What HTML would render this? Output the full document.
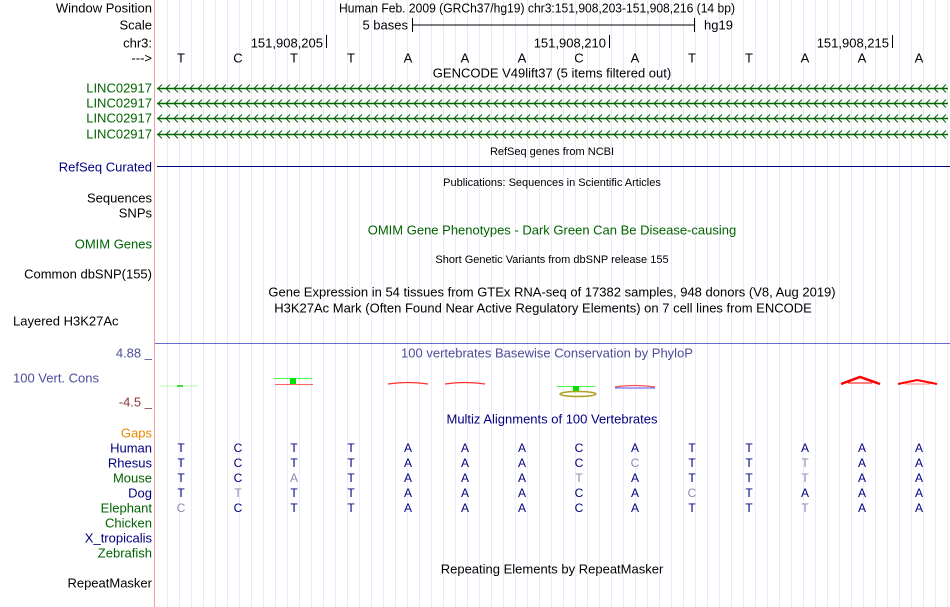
<!DOCTYPE html>
<html><head><meta charset="utf-8"><style>
html,body{margin:0;padding:0;background:#fff;width:950px;height:607px;overflow:hidden}
svg{display:block}
text{font-family:"Liberation Sans",sans-serif;font-size:13px;dominant-baseline:central}
.s{font-size:11px}
.b{font-size:12px}
.r{text-anchor:end}
.m{text-anchor:middle}
.g{fill:#006400}.n{fill:#000080}.f{fill:#8a8ab0}
</style></head><body>
<svg width="950" height="607" xmlns="http://www.w3.org/2000/svg">
<defs>
<pattern id="grid" x="155.5" y="0" width="12" height="607" patternUnits="userSpaceOnUse">
<line x1="12" y1="0" x2="12" y2="607" stroke="#d6d6f0" stroke-width="1"/>
</pattern>
<pattern id="a1" x="157" y="83.5" width="8" height="10" patternUnits="userSpaceOnUse"><polyline points="5,1 1,5 5,9" fill="none" stroke="#006400"/></pattern>
<pattern id="a2" x="157" y="98.5" width="8" height="10" patternUnits="userSpaceOnUse"><polyline points="5,1 1,5 5,9" fill="none" stroke="#006400"/></pattern>
<pattern id="a3" x="157" y="113.5" width="8" height="10" patternUnits="userSpaceOnUse"><polyline points="5,1 1,5 5,9" fill="none" stroke="#006400"/></pattern>
<pattern id="a4" x="157" y="129.5" width="8" height="10" patternUnits="userSpaceOnUse"><polyline points="5,1 1,5 5,9" fill="none" stroke="#006400"/></pattern>
</defs>
<rect x="156" y="0" width="794" height="607" fill="url(#grid)"/>
<line x1="154.5" y1="0" x2="154.5" y2="607" stroke="#f4a0a0" stroke-width="1"/>

<text x="152" y="8" class="r">Window Position</text>
<text x="152" y="25" class="r">Scale</text>
<text x="152" y="43" class="r">chr3:</text>
<text x="152" y="58" class="r">---&gt;</text>
<text x="152" y="88" class="r g">LINC02917</text>
<text x="152" y="103" class="r g">LINC02917</text>
<text x="152" y="118" class="r g">LINC02917</text>
<text x="152" y="134" class="r g">LINC02917</text>
<text x="152" y="167" class="r n">RefSeq Curated</text>
<text x="152" y="198" class="r">Sequences</text>
<text x="152" y="213" class="r">SNPs</text>
<text x="152" y="244" class="r g">OMIM Genes</text>
<text x="152" y="274" class="r">Common dbSNP(155)</text>
<text x="13" y="321">Layered H3K27Ac</text>
<text x="152" y="353" class="r" fill="#4d4d99">4.88 _</text>
<text x="13" y="378" fill="#4d4d99">100 Vert. Cons</text>
<text x="152" y="402" class="r" fill="#8b3a3a">-4.5 _</text>
<text x="152" y="433" class="r" fill="#e88a00">Gaps</text>
<text x="152" y="448" class="r n">Human</text>
<text x="152" y="463" class="r n">Rhesus</text>
<text x="152" y="478" class="r g">Mouse</text>
<text x="152" y="493" class="r n">Dog</text>
<text x="152" y="508" class="r g">Elephant</text>
<text x="152" y="523" class="r g">Chicken</text>
<text x="152" y="538" class="r n">X_tropicalis</text>
<text x="152" y="553" class="r g">Zebrafish</text>
<text x="152" y="583" class="r">RepeatMasker</text>

<text x="339" y="8" textLength="396" lengthAdjust="spacingAndGlyphs">Human Feb. 2009 (GRCh37/hg19)   chr3:151,908,203-151,908,216 (14 bp)</text>
<text x="408" y="25" class="r">5 bases</text>
<line x1="412" y1="25" x2="694" y2="25" stroke="#000"/>
<line x1="412.5" y1="18" x2="412.5" y2="32" stroke="#000"/>
<line x1="694.5" y1="18" x2="694.5" y2="32" stroke="#000"/>
<text x="704" y="25">hg19</text>
<text x="323" y="43" class="r">151,908,205</text><line x1="326.5" y1="35" x2="326.5" y2="48" stroke="#000"/>
<text x="606" y="43" class="r">151,908,210</text><line x1="609.5" y1="35" x2="609.5" y2="48" stroke="#000"/>
<text x="889" y="43" class="r">151,908,215</text><line x1="892.5" y1="35" x2="892.5" y2="48" stroke="#000"/>
<g>
<text x="181" y="58" class="m">T</text><text x="238" y="58" class="m">C</text><text x="294" y="58" class="m">T</text><text x="351" y="58" class="m">T</text><text x="408" y="58" class="m">A</text><text x="465" y="58" class="m">A</text><text x="522" y="58" class="m">A</text><text x="579" y="58" class="m">C</text><text x="635" y="58" class="m">A</text><text x="692" y="58" class="m">T</text><text x="749" y="58" class="m">T</text><text x="805" y="58" class="m">A</text><text x="862" y="58" class="m">A</text><text x="919" y="58" class="m">A</text>
</g>
<text x="552" y="73" class="m">GENCODE V49lift37 (5 items filtered out)</text>

<line x1="157" y1="88.5" x2="948" y2="88.5" stroke="#006400" stroke-width="1.5"/>
<rect x="157" y="83.5" width="791" height="10" fill="url(#a1)"/>
<line x1="157" y1="103.5" x2="948" y2="103.5" stroke="#006400" stroke-width="1.5"/>
<rect x="157" y="98.5" width="791" height="10" fill="url(#a2)"/>
<line x1="157" y1="118.5" x2="948" y2="118.5" stroke="#006400" stroke-width="1.5"/>
<rect x="157" y="113.5" width="791" height="10" fill="url(#a3)"/>
<line x1="157" y1="134.5" x2="948" y2="134.5" stroke="#006400" stroke-width="1.5"/>
<rect x="157" y="129.5" width="791" height="10" fill="url(#a4)"/>

<text x="552" y="152" class="m s">RefSeq genes from NCBI</text>
<line x1="157" y1="166.5" x2="950" y2="166.5" stroke="#000080"/>
<text x="552" y="183" class="m s">Publications: Sequences in Scientific Articles</text>
<text x="552" y="230" class="m g">OMIM Gene Phenotypes - Dark Green Can Be Disease-causing</text>
<text x="552" y="260" class="m s">Short Genetic Variants from dbSNP release 155</text>
<text x="552" y="292" class="m">Gene Expression in 54 tissues from GTEx RNA-seq of 17382 samples, 948 donors (V8, Aug 2019)</text>
<text x="543" y="308" class="m">H3K27Ac Mark (Often Found Near Active Regulatory Elements) on 7 cell lines from ENCODE</text>
<line x1="155" y1="343.5" x2="950" y2="343.5" stroke="#6a6ad0"/>
<text x="547" y="353" class="m" fill="#4d4d99">100 vertebrates Basewise Conservation by PhyloP</text>

<line x1="160" y1="386" x2="198" y2="386" stroke="#b0ffb0"/>
<line x1="177" y1="386" x2="183" y2="386" stroke="#00d000" stroke-width="1.5"/>
<line x1="274" y1="378.5" x2="312" y2="378.5" stroke="#40ff40"/>
<rect x="290" y="378" width="6" height="6" fill="#00e000"/>
<line x1="275" y1="384.5" x2="313" y2="384.5" stroke="#ff6060"/>
<path d="M388 384 Q408 381 428 384" stroke="#ff3030" fill="none" stroke-width="1.2"/>
<path d="M445 384 Q465 381 485 384" stroke="#ff3030" fill="none" stroke-width="1.2"/>
<line x1="557" y1="386.5" x2="595" y2="386.5" stroke="#40ff40"/>
<rect x="573" y="386" width="6" height="6" fill="#00e000"/>
<ellipse cx="578" cy="394" rx="18" ry="2.5" fill="none" stroke="#b0a020" stroke-width="1.5"/>
<path d="M615 387 Q635 384 655 387" stroke="#ff5050" fill="none" stroke-width="1.2"/>
<line x1="615" y1="388" x2="655" y2="388" stroke="#5050ff"/>
<path d="M841 384 L860 377 L880 384" stroke="#ff0000" fill="none" stroke-width="2.5"/>
<line x1="848" y1="383" x2="872" y2="383" stroke="#ff0000"/>
<path d="M898 384 L917 380 L937 384" stroke="#ff0000" fill="none" stroke-width="2"/>
<line x1="905" y1="384" x2="930" y2="384" stroke="#ff8080"/>

<text x="552" y="419" class="m n">Multiz Alignments of 100 Vertebrates</text>

<g>
<text x="181" y="448" class="m b n">T</text><text x="238" y="448" class="m b n">C</text><text x="294" y="448" class="m b n">T</text><text x="351" y="448" class="m b n">T</text><text x="408" y="448" class="m b n">A</text><text x="465" y="448" class="m b n">A</text><text x="522" y="448" class="m b n">A</text><text x="579" y="448" class="m b n">C</text><text x="635" y="448" class="m b n">A</text><text x="692" y="448" class="m b n">T</text><text x="749" y="448" class="m b n">T</text><text x="805" y="448" class="m b n">A</text><text x="862" y="448" class="m b n">A</text><text x="919" y="448" class="m b n">A</text>

<text x="181" y="463" class="m b n">T</text><text x="238" y="463" class="m b n">C</text><text x="294" y="463" class="m b n">T</text><text x="351" y="463" class="m b n">T</text><text x="408" y="463" class="m b n">A</text><text x="465" y="463" class="m b n">A</text><text x="522" y="463" class="m b n">A</text><text x="579" y="463" class="m b n">C</text><text x="635" y="463" class="m b f">C</text><text x="692" y="463" class="m b n">T</text><text x="749" y="463" class="m b n">T</text><text x="805" y="463" class="m b f">T</text><text x="862" y="463" class="m b n">A</text><text x="919" y="463" class="m b n">A</text>

<text x="181" y="478" class="m b n">T</text><text x="238" y="478" class="m b n">C</text><text x="294" y="478" class="m b f">A</text><text x="351" y="478" class="m b n">T</text><text x="408" y="478" class="m b n">A</text><text x="465" y="478" class="m b n">A</text><text x="522" y="478" class="m b n">A</text><text x="579" y="478" class="m b f">T</text><text x="635" y="478" class="m b n">A</text><text x="692" y="478" class="m b n">T</text><text x="749" y="478" class="m b n">T</text><text x="805" y="478" class="m b f">T</text><text x="862" y="478" class="m b n">A</text><text x="919" y="478" class="m b n">A</text>

<text x="181" y="493" class="m b n">T</text><text x="238" y="493" class="m b f">T</text><text x="294" y="493" class="m b n">T</text><text x="351" y="493" class="m b n">T</text><text x="408" y="493" class="m b n">A</text><text x="465" y="493" class="m b n">A</text><text x="522" y="493" class="m b n">A</text><text x="579" y="493" class="m b n">C</text><text x="635" y="493" class="m b n">A</text><text x="692" y="493" class="m b f">C</text><text x="749" y="493" class="m b n">T</text><text x="805" y="493" class="m b n">A</text><text x="862" y="493" class="m b n">A</text><text x="919" y="493" class="m b n">A</text>

<text x="181" y="508" class="m b f">C</text><text x="238" y="508" class="m b n">C</text><text x="294" y="508" class="m b n">T</text><text x="351" y="508" class="m b n">T</text><text x="408" y="508" class="m b n">A</text><text x="465" y="508" class="m b n">A</text><text x="522" y="508" class="m b n">A</text><text x="579" y="508" class="m b n">C</text><text x="635" y="508" class="m b n">A</text><text x="692" y="508" class="m b n">T</text><text x="749" y="508" class="m b n">T</text><text x="805" y="508" class="m b f">T</text><text x="862" y="508" class="m b n">A</text><text x="919" y="508" class="m b n">A</text>
</g>

<text x="552" y="569" class="m">Repeating Elements by RepeatMasker</text>
</svg>
</body></html>
